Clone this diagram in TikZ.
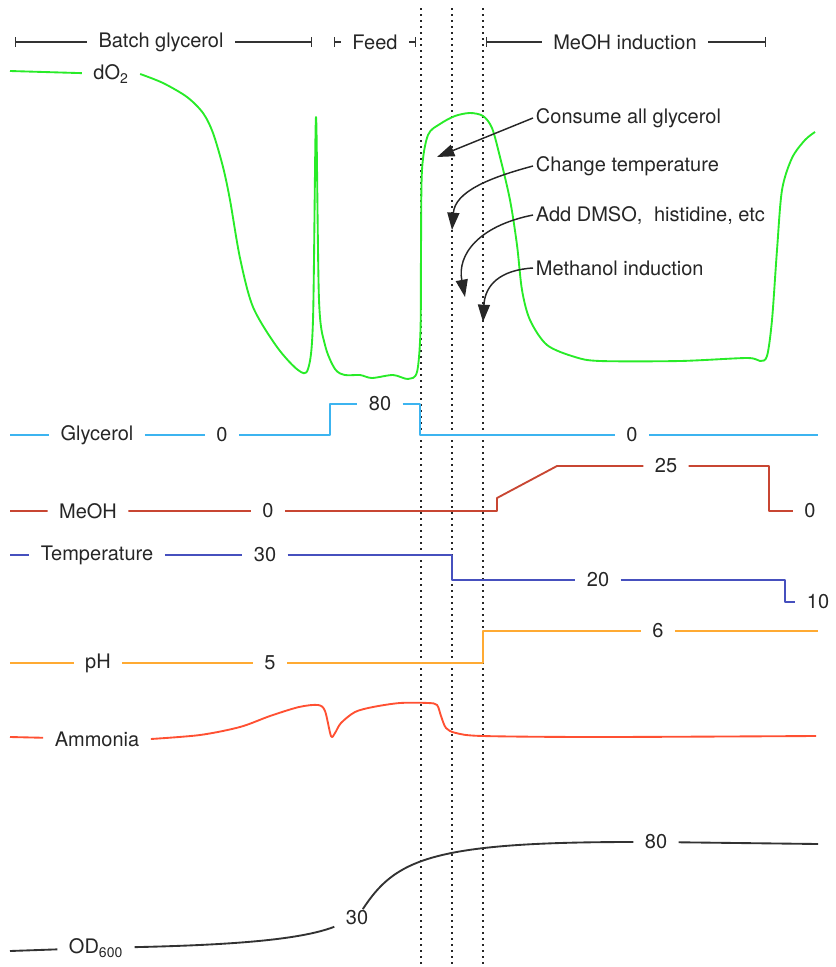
\documentclass[tikz,border=0pt]{standalone}
\usepackage{fontspec}
\setmainfont{TeX Gyre Heros}
\usetikzlibrary{arrows.meta}
\definecolor{dogreen}{RGB}{40,235,40}
\definecolor{glyblue}{RGB}{60,180,240}
\definecolor{meohred}{RGB}{200,70,50}
\definecolor{tempblue}{RGB}{70,80,190}
\definecolor{phorange}{RGB}{255,170,50}
\definecolor{ammred}{RGB}{255,80,50}
\definecolor{odgray}{RGB}{50,50,50}
\tikzset{
  lbl/.style={inner xsep=8.5pt, inner ysep=1pt, text=black!85, font=\fontsize{15}{18}\selectfont},
  note/.style={anchor=west, inner sep=2pt, text=black!85, font=\fontsize{15}{18}\selectfont},
  trace/.style={line width=1.4pt, line join=round},
  bar/.style={line width=1pt, black!80, {Bar[width=9pt]}-{Bar[width=9pt]}},
  arr/.style={line width=1.1pt, black!85, -{Triangle[length=13pt,width=9pt]}}
}
\begin{document}
\begin{tikzpicture}[x=0.75pt,y=-0.75pt]
  \useasboundingbox (0,0) rectangle (835,967);
  % phases
  \coordinate (bgL) at (15,42); \coordinate (bgR) at (312,42);
  \coordinate (fdL) at (334,42); \coordinate (fdR) at (416,42);
  \coordinate (miL) at (486,42); \coordinate (miR) at (766,42);
  \node [lbl] (batch) at (161,42) {Batch glycerol};
  \node [lbl] (feed) at (375,42) {Feed};
  \node [lbl] (induct) at (625,42) {MeOH induction};
  \draw [bar, |-] (bgL) -- (batch); \draw [bar, -|] (batch) -- (bgR);
  \draw [bar, |-] (fdL) -- (feed); \draw [bar, -|] (feed) -- (fdR);
  \draw [bar, |-] (miL) -- (induct); \draw [bar, -|] (induct) -- (miR);
  \foreach \x in {421,452,483} \draw [black!85, line width=0.9pt, dash pattern=on 1.5pt off 3pt] (\x,8) -- (\x,967);
  % dO2
  \node [lbl] (dotwo) at (111,74) {dO\textsubscript{2}};
  \draw [trace, dogreen] (10,71) -- (dotwo);
  \draw [trace, dogreen] plot [smooth, tension=0.5] coordinates {(dotwo.east) (163,83) (187,97) (203,113) (213,133) (223,167) (230,200) (240,258) (253,307) (277,347) (298,370) (308,369) (313,320) (316,117) (319,300) (325,345) (335,369) (345,375) (360,375) (372,378) (393,375) (408,379) (417,372) (420.5,330) (421,250) (422,170) (428,135) (440,124) (455,116) (470,113) (483,116) (492,128) (500,157) (510,200) (517,245) (522,290) (530,320) (547,345) (575,357) (600,361) (680,361) (747,358) (760,361) (767,356) (772,320) (777,250) (782,190) (792,158) (805,140) (815,132)};
  % annotations
  \node [note] (aCons) at (533,118) {Consume all glycerol};
  \node [note] (aTemp) at (533,166) {Change temperature};
  \node [note] (aDmso) at (533,215) {Add DMSO,\hspace{0.3em} histidine, etc};
  \node [note] (aMeoh) at (533,268) {Methanol induction};
  \coordinate (tCons) at (437,157); \coordinate (tTemp) at (452,230);
  \coordinate (tDmso) at (465,297); \coordinate (tMeoh) at (483,322);
  \draw [arr] (aCons.west) -- (tCons);
  \draw [arr] (aTemp.west) .. controls (488,178) and (455,192) .. (tTemp);
  \draw [arr] (aDmso.west) .. controls (478,226) and (457,255) .. (tDmso);
  \draw [arr] (aMeoh.west) .. controls (500,270) and (485,285) .. (tMeoh);
  % glycerol
  \node [lbl] (gly) at (97,435) {Glycerol};
  \node [lbl] (gA) at (222,435) {0};
  \node [lbl] (gB) at (380,404) {80};
  \node [lbl] (gC) at (632,435) {0};
  \draw [trace, glyblue] (10,435) -- (gly) -- (gA) -- (330,435) -- (330,404) -- (gB) -- (420,404) -- (420,435) -- (gC) -- (818,435);
  % MeOH
  \node [lbl] (meoh) at (88,511) {MeOH};
  \node [lbl] (mA) at (268,511) {0};
  \node [lbl] (mB) at (666,466) {25};
  \node [lbl] (mC) at (810,511) {0};
  \draw [trace, meohred] (10,511) -- (meoh) -- (mA) -- (497,511) -- (497,498) -- (557,466) -- (mB) -- (769,466) -- (769,511) -- (mC);
  % temperature
  \node [lbl] (temp) at (97,555) {Temperature};
  \node [lbl] (tA) at (265,555) {30};
  \node [lbl] (tB) at (598,580) {20};
  \node [lbl] (tC) at (818,602) {10};
  \draw [trace, tempblue] (10,555) -- (temp) -- (tA) -- (452,555) -- (452,580) -- (tB) -- (785,580) -- (785,602) -- (tC);
  % pH
  \node [lbl] (ph) at (98,663) {pH};
  \node [lbl] (pA) at (270,663) {5};
  \node [lbl] (pB) at (658,631) {6};
  \draw [trace, phorange] (10,663) -- (ph) -- (pA) -- (483,663) -- (483,631) -- (pB) -- (818,631);
  % ammonia
  \node [lbl] (amm) at (97,739) {Ammonia};
  \draw [trace, ammred] (10,737) -- (amm);
  \draw [trace, ammred] plot [smooth, tension=0.5] coordinates {(amm.east) (200,735) (240,727) (270,716) (299,707) (318,705) (325,711) (331,736) (335,733) (341,723) (355,712) (373,707) (400,703) (428,703) (437,705) (441,716) (446,728) (456,733) (483,736) (600,737) (816,736)};
  % OD600
  \node [lbl] (od) at (96,948) {OD\textsubscript{600}};
  \node [lbl] (oA) at (357,918) {30};
  \node [lbl] (oB) at (656,842) {80};
  \draw [trace, odgray] (10,951) -- (od);
  \draw [trace, odgray] (od) .. controls (230,945) and (300,940) .. (oA);
  \draw [trace, odgray] (oA) .. controls (395,860) and (430,842) .. (oB) -- (818,844);
\end{tikzpicture}
\end{document}
